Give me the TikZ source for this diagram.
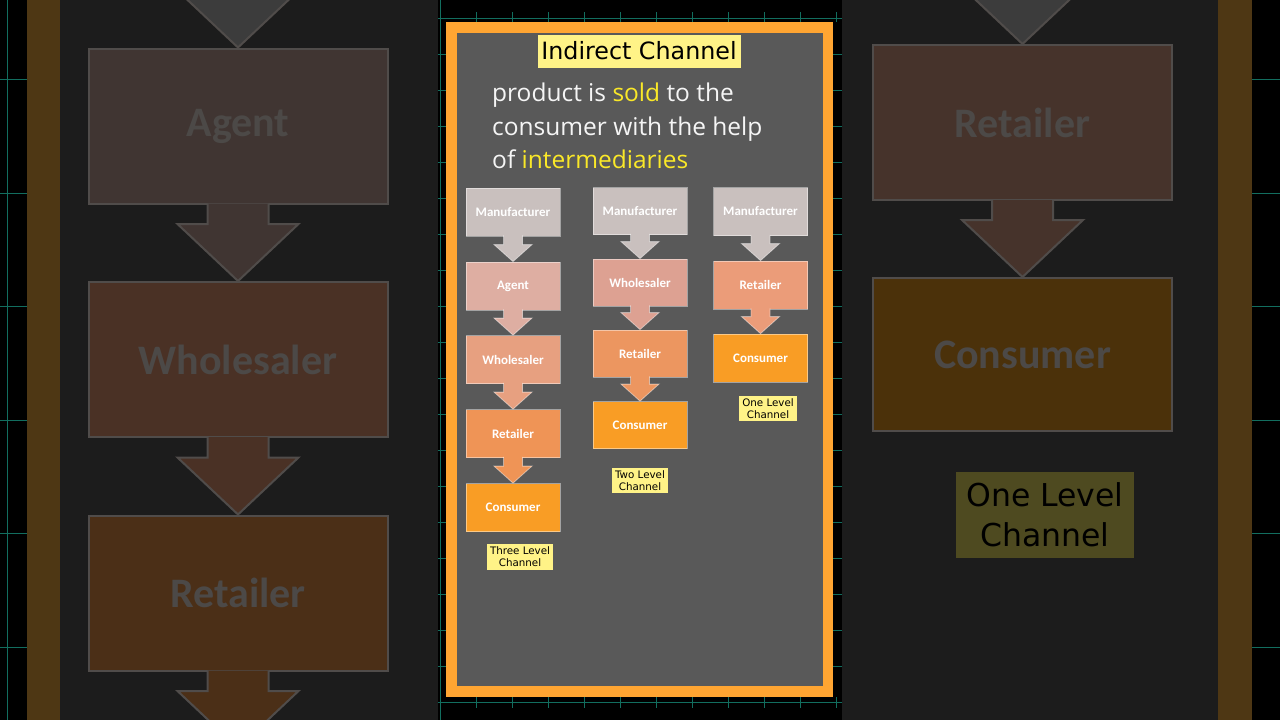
\documentclass[tikz,border=0pt]{standalone}
\usepackage{fontspec}
\setmainfont{Open Sans}
\newfontfamily\stagefont{Carlito}
\newfontfamily\tagfont{DejaVu Sans}
\usepackage{tikz}
\usetikzlibrary{calc}

\definecolor{frameorange}{RGB}{255,165,50}
\definecolor{panelgrey}{RGB}{89,89,89}
\definecolor{tagyellow}{RGB}{255,243,135}
\definecolor{keyyellow}{RGB}{250,232,40}
\definecolor{mfrgrey}{RGB}{201,192,190}
\definecolor{agentpink}{RGB}{222,174,162}
\definecolor{wholesalerA}{RGB}{231,160,128}
\definecolor{wholesalerB}{RGB}{221,161,146}
\definecolor{retailerA}{RGB}{239,148,86}
\definecolor{retailerB}{RGB}{236,150,96}
\definecolor{retailerC}{RGB}{235,156,121}
\definecolor{consumerorange}{RGB}{249,157,37}
\definecolor{sidegrey}{RGB}{28,28,28}
\definecolor{sidebrown}{RGB}{78,55,20}
\definecolor{ghostgrey}{RGB}{60,60,60}
\definecolor{ghostagent}{RGB}{64,53,50}
\definecolor{ghostwhole}{RGB}{74,49,37}
\definecolor{ghostretail}{RGB}{75,47,23}
\definecolor{ghostretailR}{RGB}{70,51,43}
\definecolor{ghostconsumer}{RGB}{75,49,10}
\definecolor{ghostolive}{RGB}{78,74,32}
\definecolor{ghostedge}{RGB}{80,76,74}
\definecolor{gridteal}{RGB}{18,110,95}

\tikzset{
	stageedge/.style={draw=white, draw opacity=.45, line width=.8pt},
	stage/.style={stageedge, minimum width=94pt, minimum height=48pt, inner sep=0pt, text=white, font=\stagefont\bfseries\fontsize{13}{15}\selectfont},
	tag/.style={fill=tagyellow, text=black, align=center, inner sep=3pt, font=\tagfont\fontsize{10.3}{12}\selectfont},
	desc/.style={anchor=base west, inner sep=0pt, text=white!96!black, font=\fontsize{24.5}{30}\selectfont},
	ghostedge/.style={draw=ghostedge, line width=2pt},
	ghost/.style={ghostedge, minimum width=299pt, minimum height=155pt, inner sep=0pt, text={rgb,255:red,76;green,73;blue,71}, font=\stagefont\bfseries\fontsize{42}{48}\selectfont},
	gridline/.style={gridteal, line width=1pt}
}

\newcommand{\hl}[1]{\textcolor{keyyellow}{#1}}
\newcommand{\blockarrow}[7][stageedge]{%
	\filldraw[#1, fill=#4] ($(#2)+(-#5,-1)$) -- ($(#3)+(-#5,-#7)$) -- ($(#3)+(-#6,-#7)$) -- (#3) -- ($(#3)+(#6,-#7)$) -- ($(#3)+(#5,-#7)$) -- ($(#2)+(#5,-1)$);}

\begin{document}
\begin{tikzpicture}[x=1pt, y=-1pt]
	\useasboundingbox (0,0) rectangle (1280,720);
	\fill[black] (0,0) rectangle (1280,720);
	\fill[sidebrown] (27,0) rectangle (60,720);
	\fill[sidegrey] (60,0) rectangle (438,720);
	\fill[sidegrey] (842,0) rectangle (1218,720);
	\fill[sidebrown] (1218,0) rectangle (1252,720);
	\draw[gridline] (7,0) -- (7,720) (440,0) -- (440,720) (438,18) -- (842,18) (438,702) -- (842,702);
	\foreach \y in {79,193,306,420,533,647}
		\draw[gridline] (0,\y) -- (27,\y) (1252,\y) -- (1280,\y);
	\foreach \y in {54,90,...,666}
		\draw[gridline] (438,\y) -- (446,\y) (833,\y) -- (842,\y);
	\foreach \x in {476,512,...,836}
		\draw[gridline] (\x,12) -- (\x,22) (\x,697) -- (\x,708);

	\coordinate (inL) at (238,-40);
	\node[ghost, fill=ghostagent] (agtL) at (238,126) {Agent};
	\node[ghost, fill=ghostwhole] (whlL) at (238,359.5) {Wholesaler};
	\node[ghost, fill=ghostretail] (retL) at (238,593) {Retailer};
	\coordinate (outL) at (238,748);
	\blockarrow[ghostedge]{inL}{agtL.north}{ghostgrey}{30.5}{60.5}{57}
	\blockarrow[ghostedge]{agtL.south}{whlL.north}{ghostagent}{30.5}{60.5}{57}
	\blockarrow[ghostedge]{whlL.south}{retL.north}{ghostwhole}{30.5}{60.5}{57}
	\blockarrow[ghostedge]{retL.south}{outL}{ghostretail}{30.5}{60.5}{57}

	\coordinate (inR) at (1022.5,-40);
	\node[ghost, fill=ghostretailR] (retR) at (1022.5,122.5) {Retailer};
	\node[ghost, fill=ghostconsumer, minimum height=153pt] (conR) at (1022.5,354.5) {Consumer};
	\node[fill=ghostolive, text=black, align=center, minimum width=178pt, minimum height=86pt, inner sep=0pt, font=\tagfont\fontsize{31.5}{40}\selectfont] (lvlR) at (1045,515) {One Level\\Channel};
	\blockarrow[ghostedge]{inR}{retR.north}{ghostgrey}{30.5}{60.5}{57}
	\blockarrow[ghostedge]{retR.south}{conR.north}{ghostretailR}{30.5}{60.5}{57}

	\fill[frameorange] (446,22) rectangle (833,697);
	\fill[panelgrey] (457,33) rectangle (823,686);
	\node[fill=tagyellow, text=black, minimum width=203pt, minimum height=33pt, inner sep=0pt, font=\tagfont\fontsize{23.8}{28}\selectfont] (ttl) at (639,51) {Indirect Channel};
	\node[desc] (ln1) at (492,101.5) {product is \hl{sold} to the};
	\node[desc] (ln2) at (492,135) {consumer with the help};
	\node[desc] (ln3) at (492,168.5) {of \hl{intermediaries}};

	\node[stage, fill=mfrgrey] (mfrA) at (513,212) {Manufacturer};
	\node[stage, fill=agentpink] (agtA) at (513,286) {Agent};
	\node[stage, fill=wholesalerA] (whlA) at (513,359.5) {Wholesaler};
	\node[stage, fill=retailerA] (retA) at (513,433.5) {Retailer};
	\node[stage, fill=consumerorange] (conA) at (513,507.5) {Consumer};
	\node[tag] (lvlA) at (520,557) {Three Level\\Channel};
	\blockarrow{mfrA.south}{agtA.north}{mfrgrey}{9.5}{19}{17}
	\blockarrow{agtA.south}{whlA.north}{agentpink}{9.5}{19}{17}
	\blockarrow{whlA.south}{retA.north}{wholesalerA}{9.5}{19}{17}
	\blockarrow{retA.south}{conA.north}{retailerA}{9.5}{19}{17}

	\node[stage, fill=mfrgrey, minimum height=47pt] (mfrB) at (640,211) {Manufacturer};
	\node[stage, fill=wholesalerB, minimum height=47pt] (whlB) at (640,282.5) {Wholesaler};
	\node[stage, fill=retailerB, minimum height=47pt] (retB) at (640,353.5) {Retailer};
	\node[stage, fill=consumerorange, minimum height=47pt] (conB) at (640,425) {Consumer};
	\node[tag] (lvlB) at (640,480.5) {Two Level\\Channel};
	\blockarrow{mfrB.south}{whlB.north}{mfrgrey}{9.5}{19}{17}
	\blockarrow{whlB.south}{retB.north}{wholesalerB}{9.5}{19}{17}
	\blockarrow{retB.south}{conB.north}{retailerB}{9.5}{19}{17}

	\node[stage, fill=mfrgrey] (mfrC) at (760.5,211.5) {Manufacturer};
	\node[stage, fill=retailerC] (retC) at (760.5,285) {Retailer};
	\node[stage, fill=consumerorange] (conC) at (760.5,358) {Consumer};
	\node[tag] (lvlC) at (768,408.5) {One Level\\Channel};
	\blockarrow{mfrC.south}{retC.north}{mfrgrey}{9.5}{19}{17}
	\blockarrow{retC.south}{conC.north}{retailerC}{9.5}{19}{17}
\end{tikzpicture}
\end{document}
